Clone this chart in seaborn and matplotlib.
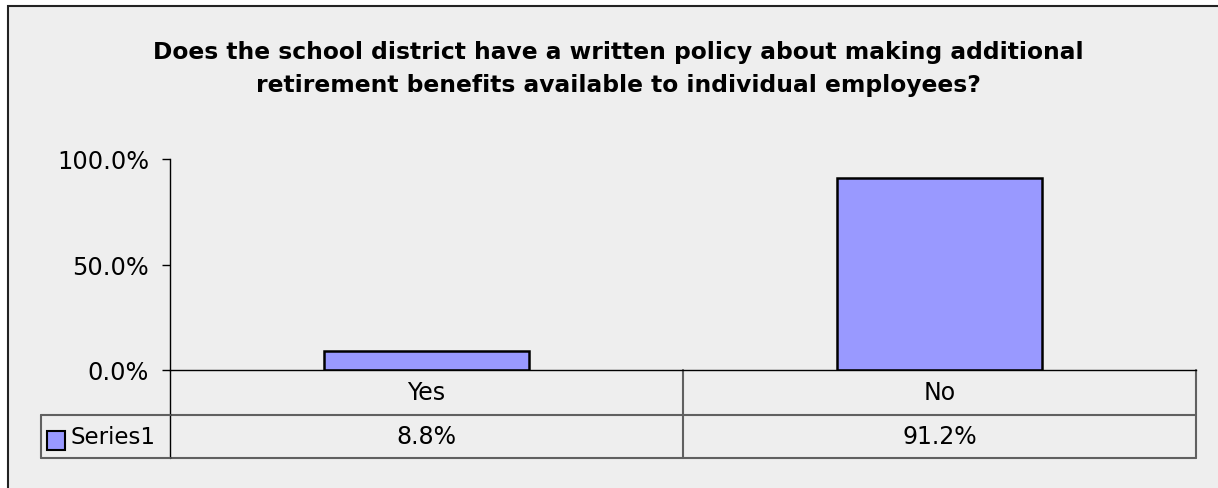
import matplotlib
matplotlib.use("Agg")
import matplotlib.pyplot as plt
import seaborn as sns
import pandas as pd
from matplotlib.patches import Rectangle
from matplotlib.lines import Line2D
from matplotlib.transforms import blended_transform_factory
from matplotlib.ticker import FuncFormatter

# ---- data ----
categories = ["Yes", "No"]
values = [0.088, 0.912]
series_name = "Series1"
title = ("Does the school district have a written policy about making additional\n"
         "retirement benefits available to individual employees?")
yticks = [0.0, 0.5, 1.0]

W, H = 1218, 489
BG = "#EEEEEE"
BAR = "#9999FF"
GRID = "#606060"

sns.set_theme(style="white")
plt.rcParams["font.family"] = ["DejaVu Sans"]

fig = plt.figure(figsize=(W / 100, H / 100), dpi=100)
fig.patch.set_facecolor("white")

def fx(px):
    return px / W

def fy(py):
    return 1 - py / H

# chart area background with border (top & left visible)
fig.patches.append(Rectangle((fx(8), -0.05), 1.2, fy(7) + 0.05, transform=fig.transFigure,
                             facecolor=BG, edgecolor="#222222", linewidth=1.5, zorder=-10))

ax = fig.add_axes([fx(170), fy(371), fx(1196) - fx(170), (371 - 160) / H])
ax.set_zorder(5)
ax.set_facecolor("none")

df = pd.DataFrame({"cat": categories, "val": values})
sns.barplot(data=df, x="cat", y="val", order=categories, color=BAR, saturation=1,
            edgecolor="black", linewidth=1.8, width=0.4, ax=ax)
ax.set_xlim(-0.5, len(categories) - 0.5)
ax.set_ylim(0, 1)
ax.set_yticks(yticks)
ax.yaxis.set_major_formatter(FuncFormatter(lambda v, p: f"{v*100:.1f}%"))
ax.set_xticks([])
ax.set_xlabel("")
ax.set_ylabel("")
for s in ["top", "right"]:
    ax.spines[s].set_visible(False)
for s in ["left", "bottom"]:
    ax.spines[s].set_color("black")
    ax.spines[s].set_linewidth(1.0)
ax.tick_params(axis="y", direction="out", length=6, width=1, color="black",
               pad=9, labelsize=17.3, labelcolor="black", left=True)

# data table below the axis
bt = blended_transform_factory(ax.transData, fig.transFigure)
ft = fig.transFigure
n = len(categories)
y_top, y_mid, y_bot = 371, 416, 459
lines = []
# left axis extension
lines.append(Line2D([fx(170), fx(170)], [fy(y_top), fy(y_bot)], transform=ft, color="black", lw=1.0, zorder=6))
lines.append(Line2D([fx(41), fx(41)], [fy(y_mid), fy(y_bot)], transform=ft, color=GRID, lw=1.5, zorder=6))
for yy in (y_mid, y_bot):
    ax.add_line(Line2D([-0.5, n - 0.5], [fy(yy), fy(yy)], transform=bt, color=GRID, lw=1.5, clip_on=False))
    lines.append(Line2D([fx(41), fx(170)], [fy(yy), fy(yy)], transform=ft, color=GRID, lw=1.5, zorder=6))
for i in range(1, n + 1):
    xb = i - 0.5
    ax.add_line(Line2D([xb, xb], [fy(y_top), fy(y_bot)], transform=bt, color=GRID, lw=1.5, clip_on=False))
for l in lines:
    fig.lines.append(l)

for i, (c, v) in enumerate(zip(categories, values)):
    ax.text(i, fy((y_top + y_mid) / 2), c, transform=bt, ha="center", va="center",
            fontsize=17, color="black", clip_on=False)
    ax.text(i, fy((y_mid + y_bot) / 2), f"{v*100:.1f}%", transform=bt, ha="center", va="center",
            fontsize=17, color="black", clip_on=False)

# legend key + series name
fig.patches.append(Rectangle((fx(47), fy(451)), fx(65) - fx(47), (451 - 432) / H, transform=ft,
                             facecolor=BAR, edgecolor="black", linewidth=1.5, zorder=6))
fig.text(fx(71), fy((y_mid + y_bot) / 2), series_name, ha="left", va="center", fontsize=16.5,
         color="black", zorder=6)

# title
fig.text(fx(618), fy(69), title, ha="center", va="center", fontsize=16.8, fontweight="bold",
         color="black", linespacing=1.55, zorder=6)

fig.savefig("out.png", dpi=100, facecolor=fig.get_facecolor())
